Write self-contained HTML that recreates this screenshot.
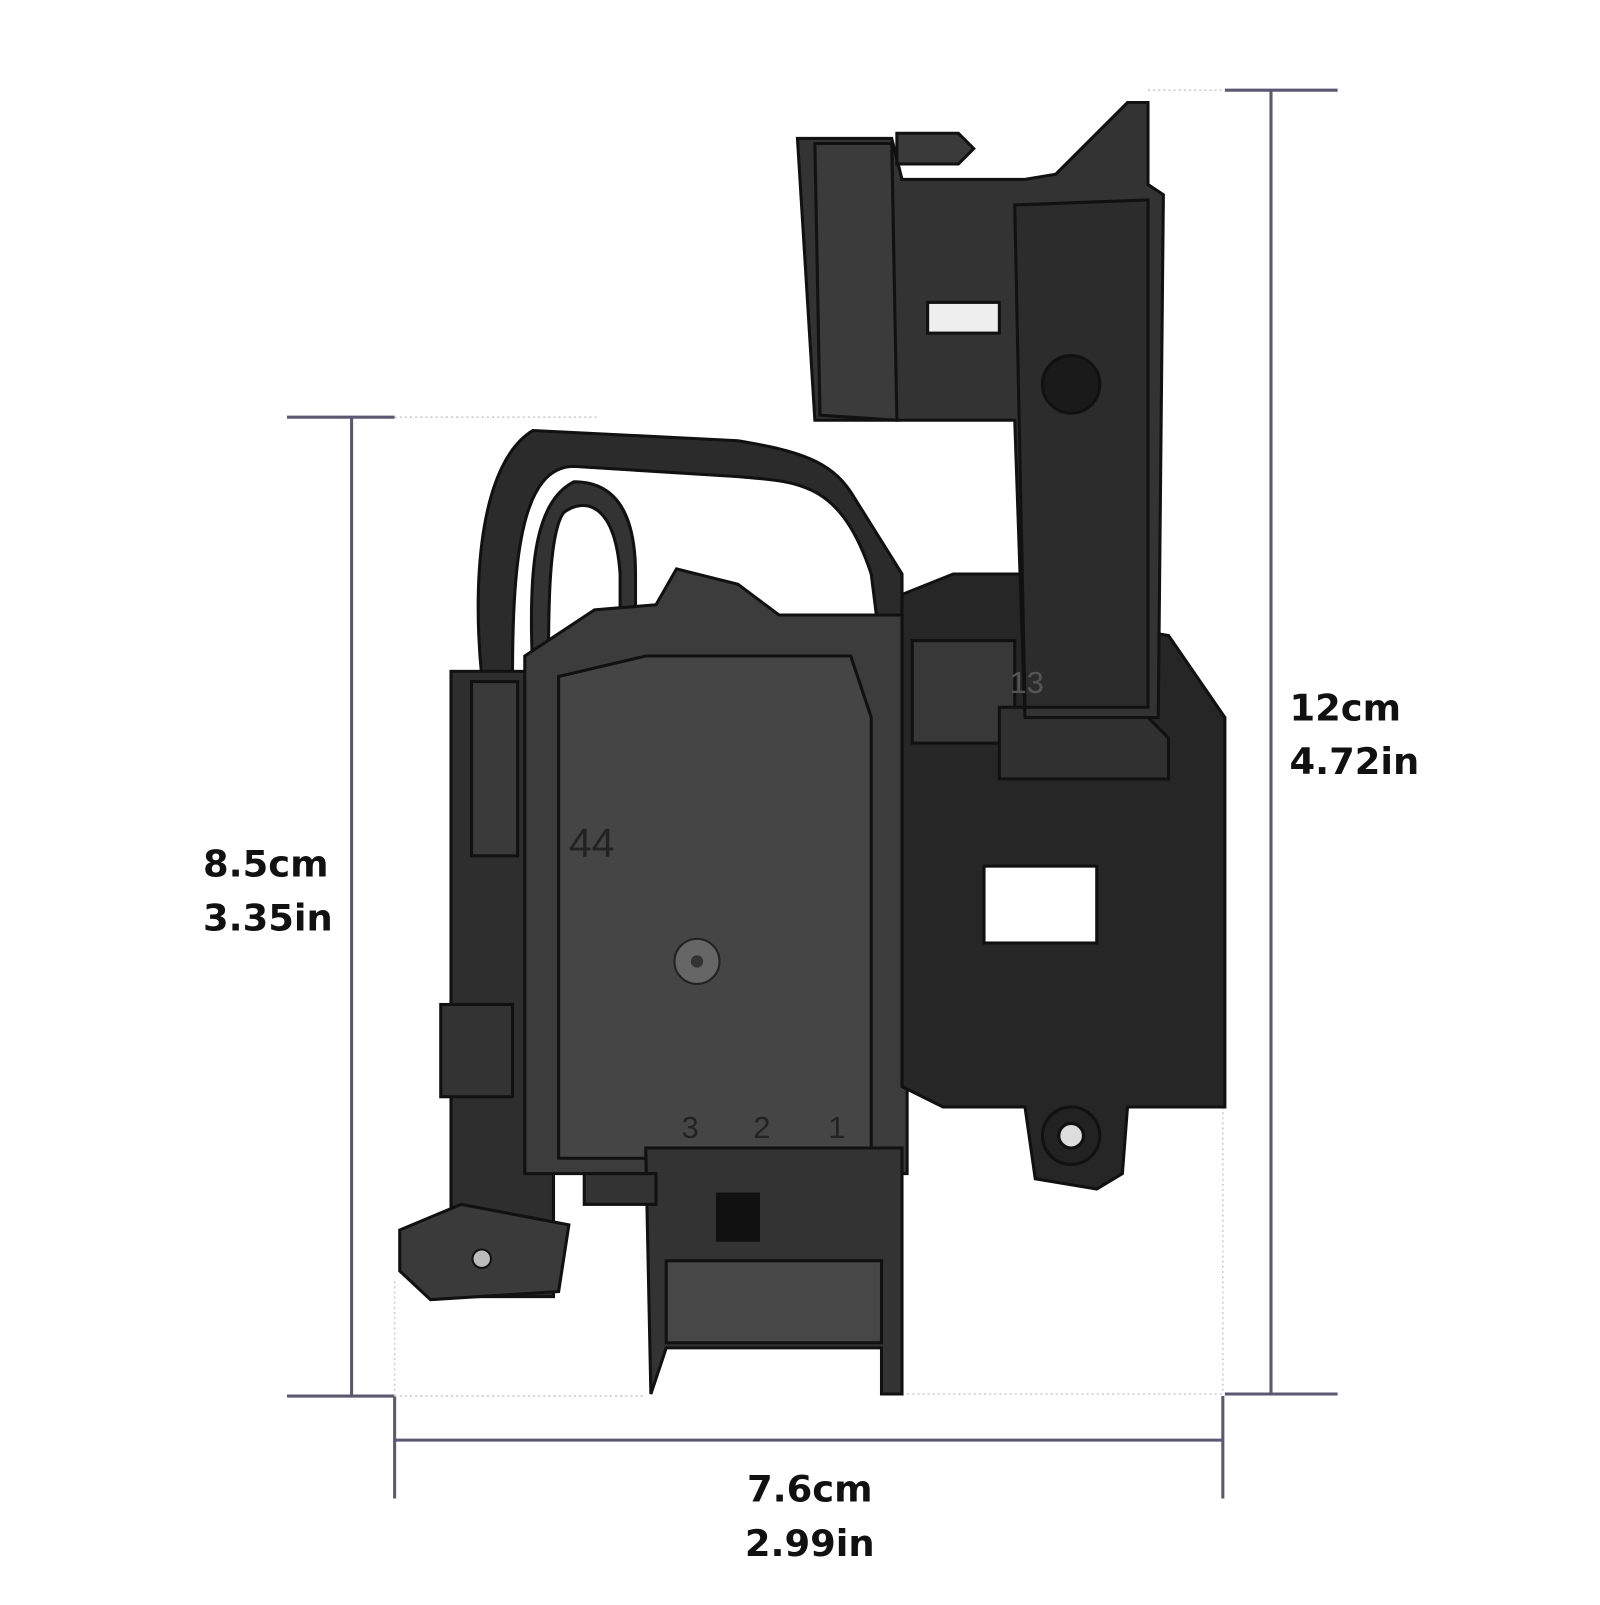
<!DOCTYPE html>
<html><head><style>
html,body{margin:0;padding:0;background:#fff;}
.t{font-family:"DejaVu Sans","Liberation Sans",sans-serif;font-weight:bold;font-size:36px;fill:#111;}
</style></head><body>
<svg width="1600" height="1600" viewBox="0 0 1600 1600" xmlns="http://www.w3.org/2000/svg">
<rect width="1600" height="1600" fill="#fff"/>
<g transform="scale(1.025)">
<g stroke="#5c5872" stroke-width="3" fill="none">
<line x1="343" y1="407" x2="343" y2="1362"/>
<line x1="280" y1="407" x2="385" y2="407"/>
<line x1="280" y1="1362" x2="385" y2="1362"/>
<line x1="1240" y1="88" x2="1240" y2="1360"/>
<line x1="1195" y1="88" x2="1305" y2="88"/>
<line x1="1195" y1="1360" x2="1305" y2="1360"/>
<line x1="385" y1="1405" x2="1193" y2="1405"/>
<line x1="385" y1="1362" x2="385" y2="1462"/>
<line x1="1193" y1="1362" x2="1193" y2="1462"/>
</g>
<g stroke="#ccc" stroke-width="1.5" stroke-dasharray="2,3" fill="none">
<line x1="385" y1="407" x2="585" y2="407"/>
<line x1="1120" y1="88" x2="1195" y2="88"/>
<line x1="385" y1="1362" x2="630" y2="1362"/>
<line x1="885" y1="1360" x2="1193" y2="1360"/>
<line x1="1193" y1="1040" x2="1193" y2="1360"/>
<line x1="385" y1="1250" x2="385" y2="1362"/>
</g>
<g fill="#2b2b2b" stroke="#111" stroke-width="3">
<path d="M470 660 C460 560 470 450 520 420 L720 430 C780 440 810 450 830 480 L880 560 L880 640 L860 640 L850 560 C820 470 780 470 720 465 L560 455 C510 455 500 540 500 660 Z"/>
<path d="M520 660 C515 560 520 490 560 470 C600 470 620 500 620 560 L620 610 L605 610 L605 560 C600 490 570 485 550 500 C535 520 535 600 535 660 Z" fill="#333"/>
<rect x="440" y="655" width="100" height="610" fill="#2e2e2e"/>
<rect x="460" y="665" width="45" height="170" fill="#3a3a3a"/>
<rect x="430" y="980" width="70" height="90" fill="#333"/>
<path d="M390 1200 L450 1175 L555 1195 L545 1260 L420 1268 L390 1240 Z" fill="#3a3a3a"/>
<path d="M512 640 L580 595 L640 590 L660 555 L720 570 L760 600 L885 600 L885 1145 L512 1145 Z" fill="#3c3c3c"/>
<path d="M545 660 L630 640 L830 640 L850 700 L850 1130 L545 1130 Z" fill="#454545"/>
<path d="M880 580 L930 560 L1020 560 L1020 600 L1140 620 L1195 700 L1195 1080 L1100 1080 L1095 1145 L1070 1160 L1010 1150 L1000 1080 L920 1080 L880 1060 Z" fill="#262626"/>
<rect x="890" y="625" width="100" height="100" fill="#383838"/>
<path d="M975 690 L1110 690 L1140 720 L1140 760 L975 760 Z" fill="#303030"/>
<rect x="960" y="845" width="110" height="75" fill="#fff" stroke="#111"/>
<circle cx="1045" cy="1108" r="28" fill="#222"/>
<circle cx="1045" cy="1108" r="12" fill="#ddd"/>
<path d="M778 135 L870 135 L880 175 L1000 175 L1030 170 L1100 100 L1120 100 L1120 180 L1135 190 L1130 700 L1000 700 L990 410 L795 410 Z" fill="#333"/>
<path d="M795 140 L870 140 L875 410 L800 405 Z" fill="#3b3b3b"/>
<rect x="905" y="295" width="70" height="30" fill="#eee" stroke="#111"/>
<path d="M990 200 L1120 195 L1120 690 L1000 690 Z" fill="#2c2c2c"/>
<circle cx="1045" cy="375" r="28" fill="#1a1a1a"/>
<path d="M875 130 L935 130 L950 145 L935 160 L875 160 Z" fill="#3a3a3a"/>
<path d="M640 1120 L880 1120 L880 1360 L860 1360 L860 1315 L650 1315 L635 1360 L630 1120 Z" fill="#333"/>
<rect x="650" y="1230" width="210" height="80" fill="#474747"/>
<rect x="700" y="1165" width="40" height="45" fill="#111"/>
<rect x="570" y="1145" width="70" height="30" fill="#333"/>
</g>
<circle cx="680" cy="938" r="22" fill="#666" stroke="#222" stroke-width="2"/>
<circle cx="680" cy="938" r="6" fill="#333"/>
<circle cx="470" cy="1228" r="9" fill="#bbb" stroke="#111" stroke-width="2"/>
<g font-family="Liberation Sans,sans-serif" fill="#222" font-size="30">
<text x="555" y="836" font-size="40">44</text>
<text x="665" y="1110">3</text><text x="735" y="1110">2</text><text x="808" y="1110">1</text>
<text x="985" y="676" fill="#555">13</text>
</g>
<text class="t" x="198" y="855">8.5cm</text>
<text class="t" x="198" y="908">3.35in</text>
<text class="t" x="1258" y="703">12cm</text>
<text class="t" x="1258" y="755">4.72in</text>
<text class="t" x="790" y="1465" text-anchor="middle">7.6cm</text>
<text class="t" x="790" y="1518" text-anchor="middle">2.99in</text>
</g>
</svg>
</body></html>
